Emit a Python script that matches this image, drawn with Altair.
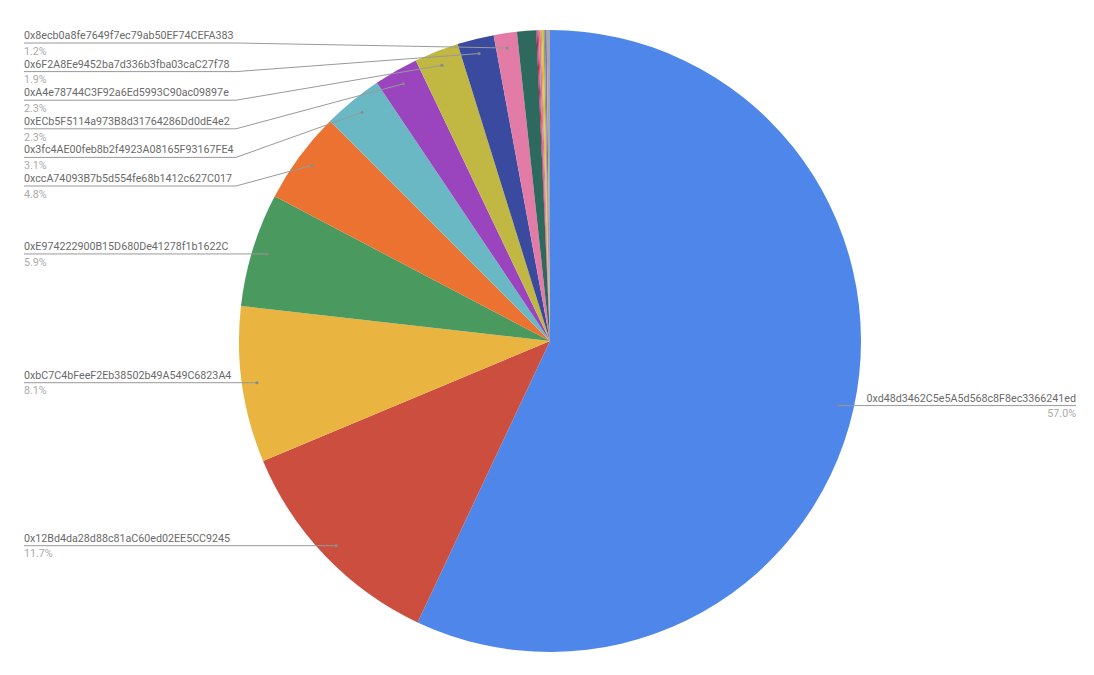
import math
import altair as alt
import pandas as pd

# ---- data ----
names = [
    "0xd48d3462C5e5A5d568c8F8ec3366241ed",
    "0x12Bd4da28d88c81aC60ed02EE5CC9245",
    "0xbC7C4bFeeF2Eb38502b49A549C6823A4",
    "0xE974222900B15D680De41278f1b1622C",
    "0xccA74093B7b5d554fe68b1412c627C017",
    "0x3fc4AE00feb8b2f4923A08165F93167FE4",
    "0xECb5F5114a973B8d31764286Dd0dE4e2",
    "0xA4e78744C3F92a6Ed5993C90ac09897e",
    "0x6F2A8Ee9452ba7d336b3fba03caC27f78",
    "0x8ecb0a8fe7649f7ec79ab50EF74CEFA383",
    "other-1", "other-2", "other-3", "other-4", "other-5",
    "other-6", "other-7", "other-8", "other-9",
]
values = [57.0, 11.7, 8.1, 5.9, 4.8, 3.1, 2.3, 2.3, 1.9, 1.2,
          1.0, 0.06, 0.06, 0.10, 0.06, 0.08, 0.07, 0.10, 0.17]
colors = ["#4e87e9", "#cb4e3f", "#e9b43f", "#4a995e", "#eb7231", "#6ab8c3",
          "#9a44be", "#c0b842", "#3a4b9f", "#e27ca7", "#2d6a5d",
          "#b8284f", "#e0436b", "#c77fb5", "#f39c2b", "#d7c82a", "#7cae52",
          "#8e6cc3", "#a8a8a8"]
label_min = 1.1  # slices below this share get no label

# ---- layout constants (page pixels) ----
W, H = 1078, 655
CX, CY, R = 550, 341, 311
DOT_R = 0.952 * R
GAP = 28.6
LEFT_TEXT_X, LEFT_KNEE_X = 24, 236
RIGHT_TEXT_X, RIGHT_KNEE_X = 1076, 862

df = pd.DataFrame({"idx": range(len(names)), "name": names, "value": values})
total = df["value"].sum()
cum = df["value"].cumsum() - df["value"] / 2
df["mid"] = cum / total * 2 * math.pi
df["dx"] = CX + DOT_R * df["mid"].apply(math.sin)
df["dy"] = CY - DOT_R * df["mid"].apply(math.cos)
df["side"] = df["mid"].apply(lambda a: "left" if a > math.pi else "right")
df["pct"] = df["value"].apply(lambda v: f"{v:.1f}%")


def spread(desired, gap, lo, hi):
    order = sorted(desired.keys(), key=lambda i: desired[i])
    clusters = [[i] for i in order]

    def place(c):
        n = len(c)
        s = sum(desired[i] for i in c) / n - (n - 1) * gap / 2
        return min(max(s, lo), hi - (n - 1) * gap)

    merged = True
    while merged:
        merged = False
        starts = [place(c) for c in clusters]
        for k in range(len(clusters) - 1):
            if starts[k] + len(clusters[k]) * gap > starts[k + 1]:
                clusters[k] = clusters[k] + clusters[k + 1]
                del clusters[k + 1]
                merged = True
                break
    out = {}
    for c in clusters:
        s = place(c)
        for j, i in enumerate(c):
            out[i] = s + j * gap
    return out


lab = df[df["value"] >= label_min].copy()
ly = {}
for side in ("left", "right"):
    sub = lab[lab["side"] == side]
    ly.update(spread(dict(zip(sub.index, sub["dy"])), GAP, 43, 640))
lab["ly"] = lab.index.map(ly)
lab["ny"] = lab["ly"] - 7
lab["py"] = lab["ly"] + 8.7

segs = []
for _, r in lab.iterrows():
    if r["side"] == "left":
        segs.append((LEFT_TEXT_X, r["ly"], LEFT_KNEE_X, r["ly"]))
        segs.append((LEFT_KNEE_X, r["ly"], r["dx"], r["dy"]))
    else:
        segs.append((r["dx"], r["dy"], RIGHT_KNEE_X, r["ly"]))
        segs.append((RIGHT_KNEE_X, r["ly"], RIGHT_TEXT_X, r["ly"]))
seg_df = pd.DataFrame(segs, columns=["x", "y", "x2", "y2"])

xs = alt.Scale(domain=[8, 8 + W], nice=False, zero=False)
ys = alt.Scale(domain=[8, 8 + H], nice=False, zero=False, reverse=True)

pie = alt.Chart(df).mark_arc(outerRadius=R).encode(
    theta=alt.Theta("value:Q", stack=True),
    color=alt.Color("name:N", scale=alt.Scale(domain=names, range=colors), legend=None),
    order=alt.Order("idx:Q"),
    x=alt.value(CX - 8),
    y=alt.value(CY - 8),
)

rules = alt.Chart(seg_df).mark_rule(color="#999999", strokeWidth=1).encode(
    x=alt.X("x:Q", scale=xs, axis=None),
    y=alt.Y("y:Q", scale=ys, axis=None),
    x2="x2:Q",
    y2="y2:Q",
)

dots = alt.Chart(lab).mark_circle(size=10, color="#8a8a8a", opacity=1).encode(
    x=alt.X("dx:Q", scale=xs, axis=None),
    y=alt.Y("dy:Q", scale=ys, axis=None),
)

font = "Roboto"
left = lab[lab["side"] == "left"].copy()
left["tx"] = LEFT_TEXT_X
right = lab[lab["side"] == "right"].copy()
right["tx"] = RIGHT_TEXT_X


def texts(d, align):
    n = alt.Chart(d).mark_text(align=align, baseline="middle", font=font,
                               fontSize=10.7, color="#6a6a6a").encode(
        x=alt.X("tx:Q", scale=xs, axis=None),
        y=alt.Y("ny:Q", scale=ys, axis=None),
        text="name:N",
    )
    p = alt.Chart(d).mark_text(align=align, baseline="middle", font=font,
                               fontSize=10.7, color="#aaaaaa").encode(
        x=alt.X("tx:Q", scale=xs, axis=None),
        y=alt.Y("py:Q", scale=ys, axis=None),
        text="pct:N",
    )
    return n + p


chart = alt.layer(pie, rules, dots, texts(left, "left"), texts(right, "right")).properties(
    width=W, height=H, padding=0, autosize=alt.AutoSizeParams(type="none"),
    background="white",
).configure_view(stroke=None)

chart.save("out.html", embed_options={"renderer": "svg", "actions": False})
